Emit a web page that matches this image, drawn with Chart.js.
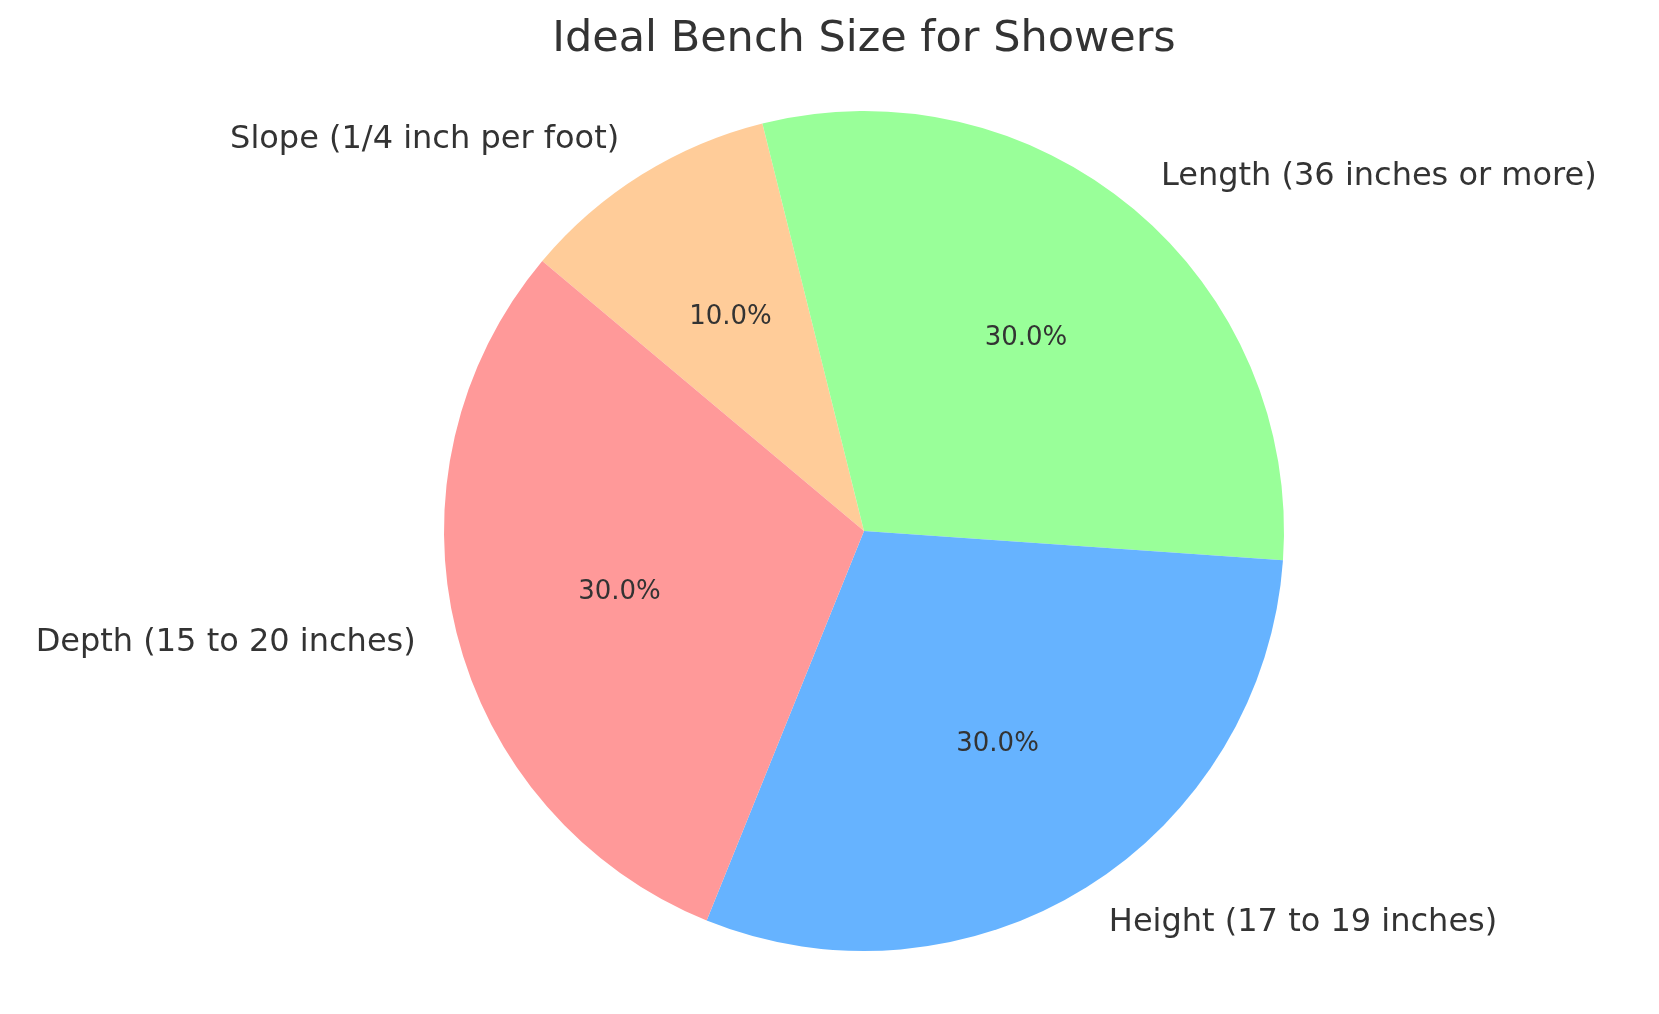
<!DOCTYPE html>
<html><head><meta charset="utf-8">
<script src="https://cdn.jsdelivr.net/npm/chart.js@4"></script>
<style>html,body{margin:0;padding:0;background:#fff}#w{width:1659px;height:1014px}</style>
</head><body><div id="w"><canvas id="c"></canvas></div>
<script>
const categories = ["Slope (1/4 inch per foot)", "Length (36 inches or more)", "Height (17 to 19 inches)", "Depth (15 to 20 inches)"];
const values = [10, 30, 30, 30];
const colors = ["#ffcc99", "#99ff99", "#66b3ff", "#ff9999"];
const titleText = "Ideal Bench Size for Showers";

const labelPlugin = {
  id: 'lbl',
  afterDatasetsDraw(chart) {
    const ctx = chart.ctx;
    const meta = chart.getDatasetMeta(0);
    const total = values.reduce((a, b) => a + b, 0);
    ctx.save();
    ctx.fillStyle = '#333';
    meta.data.forEach((arc, i) => {
      const p = arc.getProps(['x', 'y', 'startAngle', 'endAngle', 'outerRadius'], true);
      const mid = (p.startAngle + p.endAngle) / 2;
      const cx = Math.cos(mid), cy = Math.sin(mid);
      ctx.font = '26px "DejaVu Sans"';
      ctx.textAlign = 'center'; ctx.textBaseline = 'middle';
      ctx.fillText((values[i] / total * 100).toFixed(1) + '%', p.x + cx * p.outerRadius * 0.6, p.y + cy * p.outerRadius * 0.6);
      ctx.font = '32px "DejaVu Sans"';
      ctx.textAlign = cx >= 0 ? 'left' : 'right';
      ctx.fillText(categories[i], p.x + cx * p.outerRadius * 1.1, p.y + cy * p.outerRadius * 1.1);
    });
    ctx.font = '43px "DejaVu Sans"';
    ctx.textAlign = 'center'; ctx.textBaseline = 'middle';
    ctx.fillText(titleText, 864, 40);
    ctx.restore();
  }
};

new Chart(document.getElementById('c'), {
  type: 'pie',
  data: { labels: categories, datasets: [{ data: values, backgroundColor: colors, borderWidth: 0 }] },
  options: {
    responsive: true, maintainAspectRatio: false, animation: false,
    rotation: -50,
    layout: { padding: { top: 111, bottom: 63, left: 444, right: 375 } },
    plugins: { legend: { display: false }, tooltip: { enabled: false }, title: { display: false } }
  },
  plugins: [labelPlugin]
});
</script></body></html>
